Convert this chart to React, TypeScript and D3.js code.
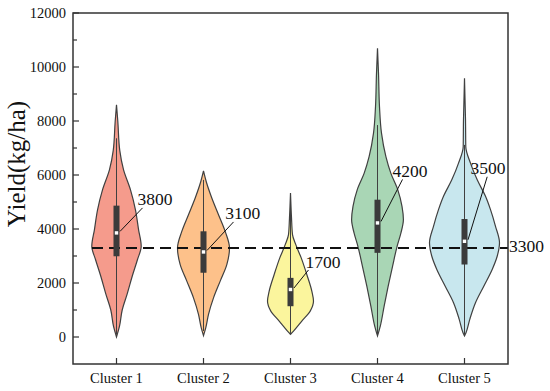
import React from 'react';
import * as d3 from 'd3';

// categories
const clusters = ["Cluster 1", "Cluster 2", "Cluster 3", "Cluster 4", "Cluster 5"];

// violin profiles: yield levels and relative density at each level
const c1Yield = [0, 400, 1000, 1600, 2250, 2870, 3360, 3980, 4700, 5450, 6200, 6900, 8000, 8600];
const c1Density = [0, 0.086, 0.163, 0.306, 0.449, 0.6, 0.706, 0.63, 0.543, 0.4, 0.2, 0.094, 0.037, 0];

const c2Yield = [50, 350, 840, 1450, 2070, 2680, 3300, 3910, 4530, 5150, 5760, 6150];
const c2Density = [0, 0.066, 0.143, 0.286, 0.477, 0.666, 0.743, 0.62, 0.429, 0.237, 0.077, 0];

const c3Yield = [100, 220, 590, 960, 1330, 1700, 2315, 2930, 3420, 3790, 4410, 5330];
const c3Density = [0, 0.086, 0.323, 0.563, 0.657, 0.609, 0.466, 0.306, 0.151, 0.057, 0.029, 0];

const c4Yield = [40, 406, 1145, 1880, 2620, 3360, 3855, 4350, 4840, 5450, 6070, 6680, 7550, 8530, 9760, 10690];
const c4Density = [0, 0.08, 0.19, 0.305, 0.43, 0.56, 0.67, 0.74, 0.7, 0.58, 0.38, 0.24, 0.114, 0.057, 0.029, 0];

const c5Yield = [40, 160, 655, 1270, 1880, 2500, 2990, 3490, 4100, 4716, 5210, 5820, 6440, 7050, 8040, 9580];
const c5Density = [0, 0.043, 0.151, 0.314, 0.551, 0.791, 0.934, 1.0, 0.886, 0.743, 0.6, 0.363, 0.171, 0.037, 0.029, 0];

// box statistics
const q1 = [2990, 2380, 1140, 3117, 2685];
const q3 = [4865, 3915, 2190, 5085, 4370];
const medians = [3855, 3150, 1760, 4225, 3545];
const whiskerLow = [100, 220, 150, 100, 100];
const whiskerHigh = [7360, 5820, 5300, 7850, 7115];
const medianLabels = ["3800", "3100", "1700", "4200", "3500"];

const referenceValue = 3300;
const yTicks = [0, 2000, 4000, 6000, 8000, 10000, 12000];
const yMinorTicks = [1000, 3000, 5000, 7000, 9000, 11000];

const fills = ["#F59B8C", "#FDC18A", "#FBF59D", "#A9D6B5", "#C8E7EE"];

// label placement (pixels relative to the median point)
const leaderEnd = [[26, -25], [30, -30], [18, -19.5], [25, -43.5], [22.7, -64.5]];
const labelPos = [[21, -28], [21.7, -33], [15, -21.2], [15, -45.6], [6, -67.3]];

const W = 550, H = 391;
const left = 73, right = 508, top = 13, bottom = 364;
const serif = "'Liberation Serif', 'Times New Roman', serif";

export default function App() {
  const profiles = [
    [c1Yield, c1Density], [c2Yield, c2Density], [c3Yield, c3Density],
    [c4Yield, c4Density], [c5Yield, c5Density],
  ];

  const x = d3.scaleBand().domain(clusters).range([left, right]).padding(0);
  const y = d3.scaleLinear().domain([-1000, 12000]).range([bottom, top]);
  const w = d3.scaleLinear().domain([0, 1]).range([0, 35]);
  const cx = (c: string) => (x(c) as number) + x.bandwidth() / 2;

  return (
    <svg width={W} height={H} style={{ position: 'absolute', left: 0, top: 0, background: '#fff', fontFamily: serif }}>
      {/* violins */}
      {clusters.map((c, i) => {
        const [ys, ds] = profiles[i];
        const pts = ys.map((v, k) => [v, ds[k]]);
        const area = d3.area<number[]>()
          .y(p => y(p[0]))
          .x0(p => cx(c) - w(p[1]))
          .x1(p => cx(c) + w(p[1]))
          .curve(d3.curveMonotoneY);
        return (
          <g key={c}>
            <path d={area(pts) || ''} fill={fills[i]} stroke="#404040" strokeWidth={1.2} />
            <line x1={cx(c)} x2={cx(c)} y1={y(whiskerLow[i])} y2={y(whiskerHigh[i])} stroke="#404040" strokeWidth={1} />
          </g>
        );
      })}

      {/* reference line */}
      <line x1={92} x2={right} y1={y(referenceValue)} y2={y(referenceValue)} stroke="#111" strokeWidth={2} strokeDasharray="11,6" />
      <text x={right + 1} y={y(referenceValue) + 4.5} fontSize={17.5} fill="#111">{referenceValue}</text>

      {/* boxes, medians, labels */}
      {clusters.map((c, i) => {
        const mx = cx(c), my = y(medians[i]);
        return (
          <g key={'b' + c}>
            <rect x={mx - 3} y={y(q3[i])} width={6} height={y(q1[i]) - y(q3[i])} fill="#3b3b3b" />
            <rect x={mx - 1.7} y={my - 1.7} width={3.4} height={3.4} fill="#fff" />
            <line x1={mx + 3.5} y1={my - 1.5} x2={mx + leaderEnd[i][0]} y2={my + leaderEnd[i][1]} stroke="#111" strokeWidth={1} />
            <text x={mx + labelPos[i][0]} y={my + labelPos[i][1]} fontSize={17.5} fill="#111">{medianLabels[i]}</text>
          </g>
        );
      })}

      {/* frame */}
      <rect x={left} y={top} width={right - left} height={bottom - top} fill="none" stroke="#333" strokeWidth={1.5} />

      {/* y axis ticks */}
      {yTicks.map(t => (
        <g key={'y' + t}>
          <line x1={left} x2={left + 6} y1={y(t)} y2={y(t)} stroke="#333" strokeWidth={1.2} />
          <text x={left - 7} y={y(t)} dy="0.35em" textAnchor="end" fontSize={14.5} fill="#111">{t}</text>
        </g>
      ))}
      {yMinorTicks.map(t => (
        <line key={'m' + t} x1={left} x2={left + 4} y1={y(t)} y2={y(t)} stroke="#333" strokeWidth={1.2} />
      ))}

      {/* x axis ticks */}
      {clusters.map(c => (
        <g key={'x' + c}>
          <line x1={cx(c)} x2={cx(c)} y1={bottom} y2={bottom - 6} stroke="#333" strokeWidth={1.2} />
          <text x={cx(c)} y={382.7} textAnchor="middle" fontSize={14.5} fill="#111">{c}</text>
        </g>
      ))}

      {/* y title */}
      <text transform={`translate(25,164) rotate(-90)`} textAnchor="middle" fontSize={25} fill="#111">Yield(kg/ha)</text>
    </svg>
  );
}
